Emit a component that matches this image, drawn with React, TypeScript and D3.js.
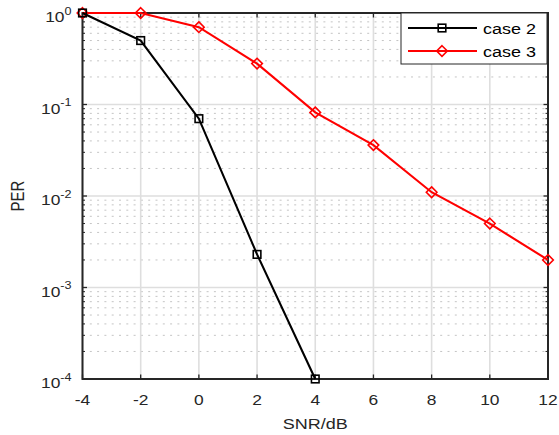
import React from "react";
import * as d3 from "d3";

const snr = [-4, -2, 0, 2, 4, 6, 8, 10, 12];
const case2X = [-4, -2, 0, 2, 4];
const case2Y = [1.0, 0.5, 0.07, 0.0023, 0.0001];
const case3X = [-4, -2, 0, 2, 4, 6, 8, 10, 12];
const case3Y = [1.0, 1.0, 0.7, 0.28, 0.082, 0.036, 0.011, 0.005, 0.002];
const yDecades = [0, -1, -2, -3, -4];
const seriesNames = ["case 2", "case 3"];

const W = 559, H = 435;
const L = 82.5, R = 548, T = 13, B = 379;
const FONT = "'Liberation Sans', Arial, sans-serif";
const SX = 1.2;

function T2({ x, y, size, anchor = "start", fill = "#262626", children }: any) {
  return (
    <g transform={`translate(${x},${y}) scale(${SX},1)`}>
      <text x={0} y={0} fontSize={size} textAnchor={anchor} fill={fill}>{children}</text>
    </g>
  );
}

export default function App() {
  const x = d3.scaleLinear().domain([-4, 12]).range([L, R]);
  const y = d3.scaleLog().domain([1e-4, 1]).range([B, T]);
  const minor: number[] = [];
  for (let e = -4; e < 0; e++) for (let m = 2; m <= 9; m++) minor.push(m * Math.pow(10, e));
  const line = d3.line<[number, number]>().x(d => x(d[0])).y(d => y(d[1]));
  const d2 = case2X.map((v, i) => [v, case2Y[i]] as [number, number]);
  const d3s = case3X.map((v, i) => [v, case3Y[i]] as [number, number]);
  const sq = (cx: number, cy: number, k: string) => (
    <rect key={k} x={cx - 3.8} y={cy - 3.8} width={7.6} height={7.6} fill="none" stroke="#000" strokeWidth={1.6} />
  );
  const dia = (cx: number, cy: number, k: string) => (
    <path key={k} d={`M${cx},${cy - 5.3}L${cx + 5.3},${cy}L${cx},${cy + 5.3}L${cx - 5.3},${cy}Z`} fill="none" stroke="#f00" strokeWidth={1.6} />
  );
  return (
    <svg width={W} height={H} style={{ position: "absolute", left: 0, top: 0, background: "#fff" }} fontFamily={FONT}>
      <rect x={0} y={0} width={W} height={H} fill="#fff" />
      {minor.map((v, i) => (
        <line key={"mg" + i} x1={L} x2={R} y1={y(v)} y2={y(v)} stroke="#c4c4c4" strokeWidth={1} strokeDasharray="2,5.3" />
      ))}
      {snr.map((v, i) => (
        <line key={"gx" + i} x1={x(v)} x2={x(v)} y1={T} y2={B} stroke="#dedede" strokeWidth={1.6} />
      ))}
      {yDecades.map((e, i) => (
        <line key={"gy" + i} x1={L} x2={R} y1={y(Math.pow(10, e))} y2={y(Math.pow(10, e))} stroke="#dedede" strokeWidth={1.4} />
      ))}
      {snr.map((v, i) => (
        <g key={"tx" + i}>
          <line x1={x(v)} x2={x(v)} y1={B} y2={B - 4.5} stroke="#262626" strokeWidth={1.3} />
          <line x1={x(v)} x2={x(v)} y1={T} y2={T + 4.5} stroke="#262626" strokeWidth={1.3} />
          <T2 x={x(v)} y={B + 26} size={14.5} anchor="middle">{v}</T2>
        </g>
      ))}
      {yDecades.map((e, i) => (
        <g key={"ty" + i}>
          <line x1={L} x2={L + 4.5} y1={y(Math.pow(10, e))} y2={y(Math.pow(10, e))} stroke="#262626" strokeWidth={1.3} />
          <line x1={R} x2={R - 4.5} y1={y(Math.pow(10, e))} y2={y(Math.pow(10, e))} stroke="#262626" strokeWidth={1.3} />
          <T2 x={L - 11} y={y(Math.pow(10, e)) + 9} size={14.5} anchor="end">
            10<tspan dy={-7.5} fontSize={10.5}>{e}</tspan>
          </T2>
        </g>
      ))}
      {minor.map((v, i) => (
        <g key={"mt" + i}>
          <line x1={L} x2={L + 2.5} y1={y(v)} y2={y(v)} stroke="#262626" />
          <line x1={R} x2={R - 2.5} y1={y(v)} y2={y(v)} stroke="#262626" />
        </g>
      ))}
      <rect x={L} y={T} width={R - L} height={B - T} fill="none" stroke="#262626" strokeWidth={2} />
      <path d={line(d3s) || ""} fill="none" stroke="#f00" strokeWidth={2.1} />
      {d3s.map((p, i) => dia(x(p[0]), y(p[1]), "d" + i))}
      <path d={line(d2) || ""} fill="none" stroke="#000" strokeWidth={2.1} />
      {d2.map((p, i) => sq(x(p[0]), y(p[1]), "s" + i))}
      <T2 x={(L + R) / 2} y={B + 49.5} size={15} anchor="middle">SNR/dB</T2>
      <g transform={`translate(24,${(T + B) / 2}) scale(${SX},1) rotate(-90)`}>
        <text x={0} y={0} fontSize={15} textAnchor="middle" fill="#262626">PER</text>
      </g>
      <g>
        <rect x={401} y={T} width={146} height={51} fill="#fff" stroke="#262626" strokeWidth={1} />
        <line x1={408} x2={477} y1={28} y2={28} stroke="#000" strokeWidth={2.1} />
        {sq(442, 28, "ls")}
        <T2 x={483} y={33.5} size={15} fill="#000">{seriesNames[0]}</T2>
        <line x1={408} x2={477} y1={51} y2={51} stroke="#f00" strokeWidth={2.1} />
        {dia(442, 51, "ld")}
        <T2 x={483} y={56.5} size={15} fill="#000">{seriesNames[1]}</T2>
      </g>
    </svg>
  );
}
